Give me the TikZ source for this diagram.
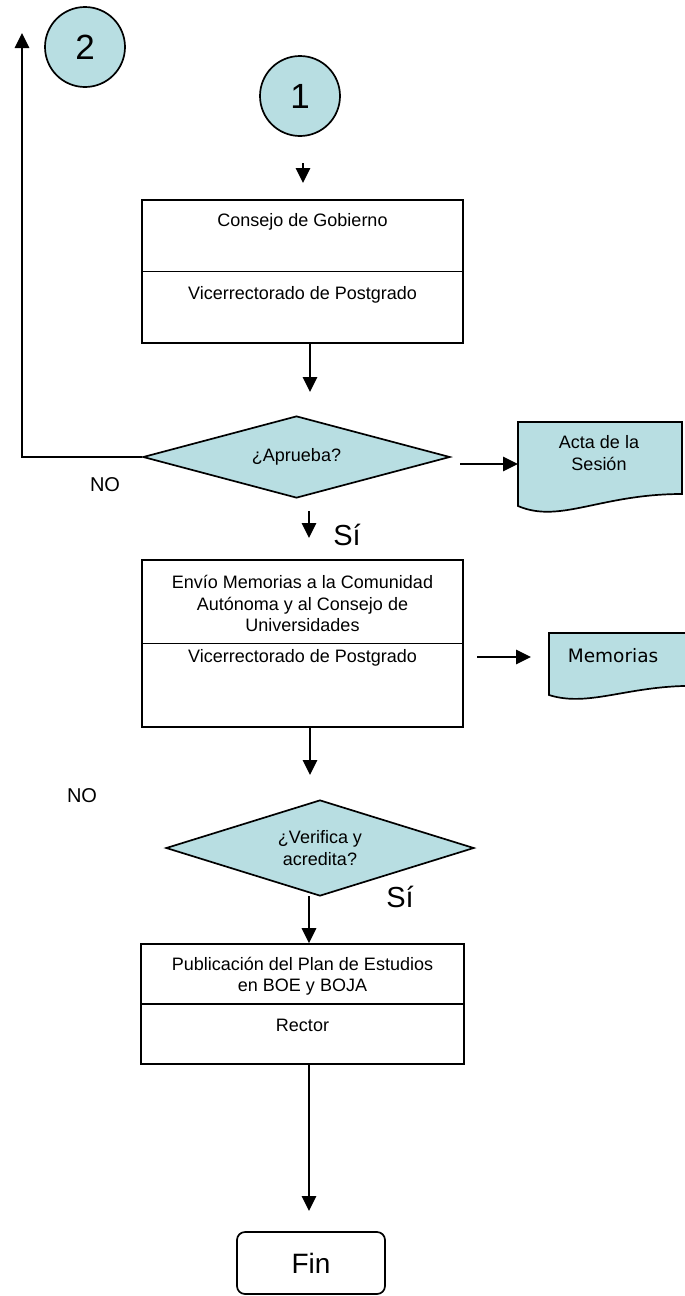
\documentclass[tikz,border=0pt]{standalone}
\usepackage{fontspec}
\setmainfont{Liberation Sans}
\newfontfamily\docfont{DejaVu Sans}
\usetikzlibrary{shapes.geometric,arrows.meta}
\definecolor{flowfill}{RGB}{184,222,226}
\begin{document}
\begin{tikzpicture}[x=1pt,y=-1pt,
  line width=1.7pt,
  every node/.style={font=\fontsize{18}{21.5}\selectfont, inner sep=0pt},
  arr/.style={-{Triangle[length=15pt,width=14.5pt]}},
  conn/.style={circle,draw,fill=flowfill,minimum size=80pt,font=\fontsize{35}{40}\selectfont},
  stepbox/.style={rectangle,draw,minimum width=321pt},
  decision/.style={diamond,draw,fill=flowfill,align=center},
  doc/.style={draw,fill=flowfill},
  lbl/.style={font=\fontsize{20}{24}\selectfont},
  yes/.style={font=\fontsize{29}{34}\selectfont},
  endbox/.style={draw,rounded corners=8pt,minimum width=148pt,minimum height=62pt,font=\fontsize{28}{32}\selectfont},
]
\useasboundingbox (0,0) rectangle (685,1296);
\clip (0,0) rectangle (685,1296);

% connectors (page references)
\node[conn] (c2) at (85,47) {2};
\node[conn] (c1) at (300,96) {1};

% first step
\node[stepbox,minimum height=143pt] (box1) at (302.5,271.5) {};
\draw (box1.west) -- (box1.east);
\node (t1a) at (302.5,222) {Consejo de Gobierno};
\node (t1b) at (302.5,295) {Vicerrectorado de Postgrado};

% first decision
\node[decision,minimum width=307pt,minimum height=82pt,aspect=3.7] (d1) at (296.5,457) {¿Aprueba?};

% minutes document
\path[doc] (518,506) -- (518,422) -- (682,422) -- (682,494)
  .. controls (600,494) and (560,524) .. (518,506) -- cycle;
\node[align=center] (acta) at (599,453) {Acta de la\\Sesión};

% second step
\node[stepbox,minimum height=167pt] (box2) at (302.5,643.5) {};
\draw (box2.west) -- (box2.east);
\node[align=center] (t2a) at (302.5,603.5) {Envío Memorias a la Comunidad\\Autónoma y al Consejo de\\Universidades};
\node (t2b) at (302.5,658) {Vicerrectorado de Postgrado};

% reports document
\path[doc] (549,695) -- (549,633) -- (700,633) -- (700,686)
  .. controls (630,684) and (590,708) .. (549,695) -- cycle;
\node[anchor=west,font=\docfont\fontsize{18.5}{21.5}\selectfont] (memo) at (567,656) {Memorias};

% second decision
\node[decision,minimum width=308pt,minimum height=96pt,aspect=3.2] (d2) at (320,848) {¿Verifica y\\acredita?};

% third step
\node[stepbox,minimum height=120pt,minimum width=323pt] (box3) at (302.5,1004) {};
\draw (box3.west) -- (box3.east);
\node[align=center] (t3a) at (302.5,976) {Publicación del Plan de Estudios\\en BOE y BOJA};
\node (t3b) at (302.5,1025) {Rector};

% end
\node[endbox] (fin) at (311,1263) {Fin};

% branch labels
\node[lbl] (no1) at (105,485) {NO};
\node[lbl] (no2) at (82,796) {NO};
\node[yes] (si1) at (347,535) {Sí};
\node[yes] (si2) at (400,897) {Sí};

% free arrow ends
\coordinate (a0s) at (303,163);
\coordinate (a0e) at (303,183);
\coordinate (ret) at (22,457);
\coordinate (rettop) at (22,33);
\coordinate (a2e) at (310,392);
\coordinate (a3s) at (460,464);
\coordinate (actaw) at (518,464);
\coordinate (a1s) at (309,511);
\coordinate (a1e) at (309,538);
\coordinate (m0s) at (477,657);
\coordinate (m0e) at (531,657);
\coordinate (a4e) at (310,775);
\coordinate (a5s) at (309,896);
\coordinate (a6e) at (309,1211);

% flow arrows
\draw[arr] (a0s) -- (a0e);
\draw[arr] (box1.south -| a2e) -- (a2e);
\draw[arr] (d1.west) -- (ret) -- (rettop);
\draw[arr] (a3s) -- (actaw);
\draw[arr] (a1s) -- (a1e);
\draw[arr] (m0s) -- (m0e);
\draw[arr] (box2.south -| a4e) -- (a4e);
\draw[arr] (a5s) -- (box3.north -| a5s);
\draw[arr] (box3.south -| a6e) -- (a6e);
\end{tikzpicture}
\end{document}
